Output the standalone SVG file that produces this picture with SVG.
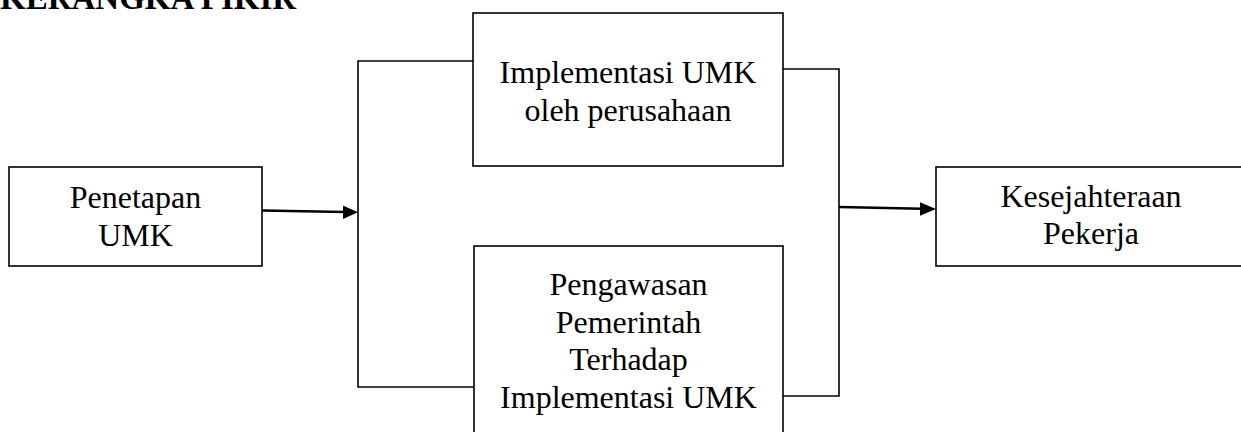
<svg xmlns="http://www.w3.org/2000/svg" width="1241" height="432" viewBox="0 0 1241 432">
<style>
.box{fill:#fff;stroke:#000;stroke-width:1.6}
.ln{fill:none;stroke:#000;stroke-width:1.6}
.ar{fill:none;stroke:#000;stroke-width:2.6}
.t{font-family:"Liberation Serif","Times New Roman",serif;font-size:32px;fill:#000;text-anchor:middle}
.title{font-family:"Liberation Serif","Times New Roman",serif;font-size:33px;font-weight:bold;fill:#000}
</style>
<rect width="1241" height="432" fill="#fff"/>
<text class="title" x="0" y="9">KERANGKA PIKIR</text>
<g id="connectors">
<polyline class="ln" points="473,61 358,61 358,387 474,387"/>
<polyline class="ln" points="783,69 839,69 839,396 783,396"/>
<line class="ar" x1="262" y1="210.5" x2="345" y2="212"/>
<polygon points="358,212.3 343,205.5 343,219" fill="#000"/>
<line class="ar" x1="839" y1="207" x2="922" y2="208.8"/>
<polygon points="936,209 920,202.3 920,215.8" fill="#000"/>
</g>
<g id="penetapan">
<rect class="box" x="9" y="167" width="253" height="99"/>
<text class="t" x="135.5" y="208">Penetapan</text>
<text class="t" x="135.5" y="246">UMK</text>
</g>
<g id="implementasi">
<rect class="box" x="473" y="13" width="310" height="153"/>
<text class="t" x="628" y="83">Implementasi UMK</text>
<text class="t" x="628" y="121">oleh perusahaan</text>
</g>
<g id="pengawasan">
<rect class="box" x="474" y="246" width="309" height="200"/>
<text class="t" x="628.5" y="295">Pengawasan</text>
<text class="t" x="628.5" y="332.5">Pemerintah</text>
<text class="t" x="628.5" y="370">Terhadap</text>
<text class="t" x="628.5" y="407.5">Implementasi UMK</text>
</g>
<g id="kesejahteraan">
<rect class="box" x="936" y="167" width="310" height="99"/>
<text class="t" x="1091" y="207">Kesejahteraan</text>
<text class="t" x="1091" y="244">Pekerja</text>
</g>
</svg>
